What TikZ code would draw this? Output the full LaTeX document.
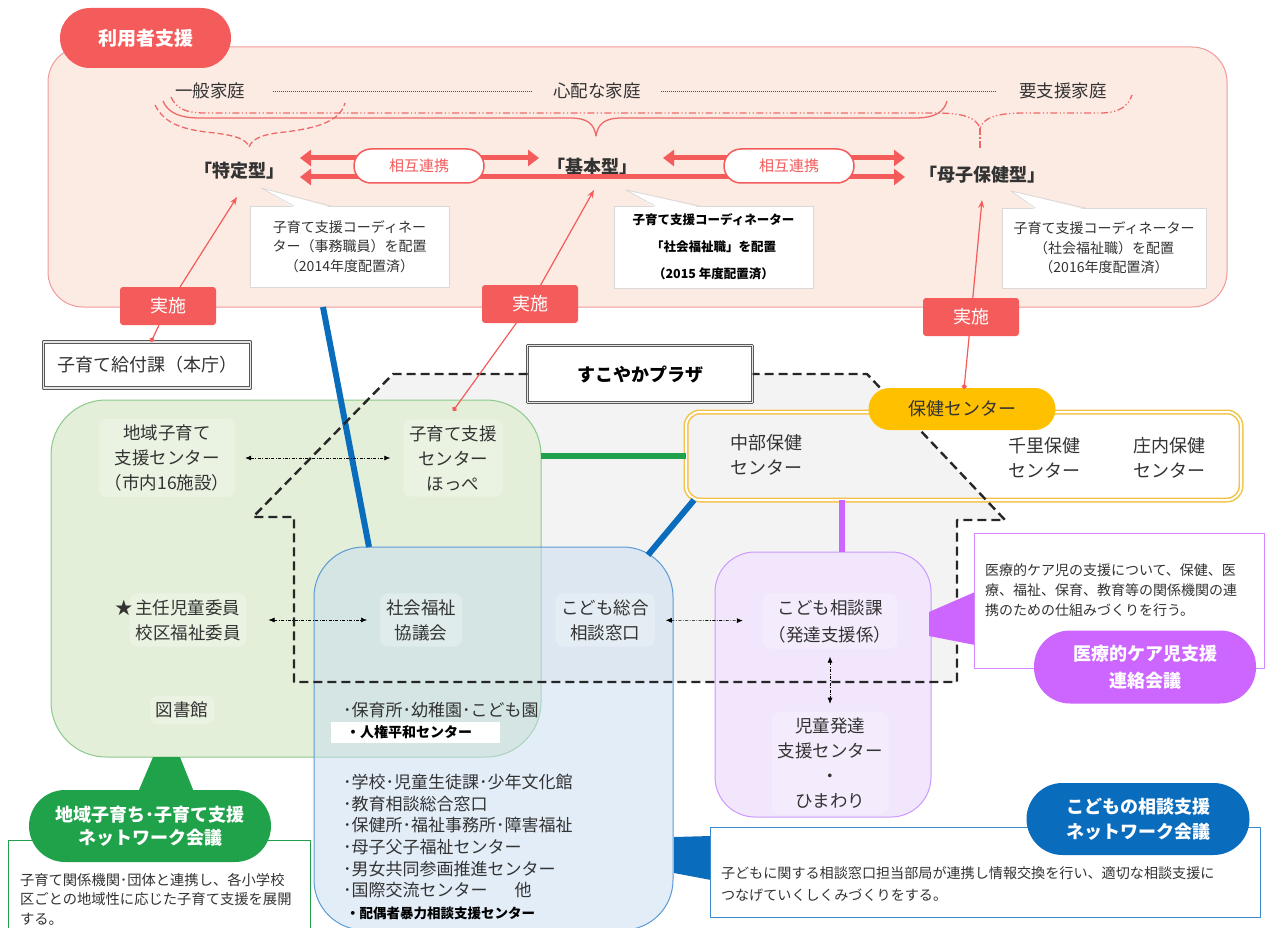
\documentclass[tikz,border=0pt]{standalone}
\usepackage{fontspec}
\setmainfont{Noto Sans CJK JP}
\usetikzlibrary{arrows.meta,positioning}

\definecolor{riyoured}{HTML}{F45B5B}
\definecolor{panelpink}{HTML}{FCEBE3}
\definecolor{panelline}{HTML}{F29A9A}
\definecolor{bracered}{HTML}{EE6A6A}
\definecolor{chiikifill}{HTML}{E3EFD8}
\definecolor{chiikiline}{HTML}{8CC98C}
\definecolor{chiikigreen}{HTML}{1FA24A}
\definecolor{soudanfill}{HTML}{C6DCF1}
\definecolor{soudanline}{HTML}{5B9BD5}
\definecolor{soudanblue}{HTML}{0A6CBD}
\definecolor{hattatsufill}{HTML}{F1E6FB}
\definecolor{hattatsuline}{HTML}{CC99FF}
\definecolor{iryopurple}{HTML}{CC66FF}
\definecolor{hokengold}{HTML}{FFC000}
\definecolor{hokenline}{HTML}{F3C246}
\definecolor{plazagray}{HTML}{F3F3F3}
\definecolor{txt}{HTML}{333333}

\newcommand{\jfs}[2]{\fontsize{#1}{#2}\selectfont}

\begin{document}
\begin{tikzpicture}[x=1pt,y=-1pt,line join=round,
    every node/.style={inner sep=0pt,outer sep=0pt,text=txt},
    lbl/.style={font=\jfs{17.5}{25},align=center,fill=white,fill opacity=0.28,text opacity=1,inner sep=6pt,rounded corners=8pt},
    jisshi/.style={fill=riyoured,rounded corners=3pt,minimum width=96pt,minimum height=38pt,text=white,font=\jfs{18}{22}},
    renkei/.style={draw=riyoured,line width=1.5pt,fill=white,rounded corners=17pt,minimum width=130pt,minimum height=34pt,text=riyoured,font=\jfs{15}{18}},
    duo/.style={draw=riyoured,line width=5pt,{Triangle[length=11pt,width=16pt]}-{Triangle[length=11pt,width=16pt]}},
    jline/.style={draw=riyoured,line width=1.2pt},
    brace/.style={draw=bracered,line width=1.3pt},
    dotline/.style={draw=black!70,line width=0.8pt,dash pattern=on 1pt off 1pt},
    callout/.style={draw=black!15,fill=white,line width=0.8pt,align=center},
    dblbox/.style={draw=black!65,double=gray!20,double distance=1.6pt,line width=0.9pt,fill=white},
    bigbox/.style={line width=1pt},
    kaigi/.style={text=white,font=\bfseries\jfs{18}{25},align=center},
    dashdot/.style={draw=black,line width=0.6pt,dash pattern=on 3pt off 1.5pt on 0.8pt off 1.5pt,{Latex[length=6pt,width=5pt]}-{Latex[length=6pt,width=5pt]}},
    thickline/.style={line width=6pt},
    plazadash/.style={draw=black!85,line width=2.4pt,dash pattern=on 9pt off 5pt},
    memo/.style={align=left,anchor=west},
  ]
\useasboundingbox (0,0) rectangle (1265,928);

% 利用者支援
\node[bigbox,draw=panelline,fill=panelpink,rounded corners=35pt,minimum width=1179pt,minimum height=260pt] (riyou) at (637.5,177) {};
\node[fill=riyoured,rounded corners=30pt,minimum width=171pt,minimum height=60pt,text=white,font=\bfseries\jfs{19}{22}] (riyoutab) at (145.5,38) {利用者支援};

\node[font=\jfs{17.5}{20}] (ippan) at (210,91) {一般家庭};
\node[font=\jfs{17.5}{20}] (shinpai) at (597,91) {心配な家庭};
\node[font=\jfs{17.5}{20}] (youshien) at (1063,91) {要支援家庭};
\draw[dotline,shorten <=28pt,shorten >=21pt] (ippan) -- (shinpai);
\draw[dotline,shorten <=20pt,shorten >=24pt] (shinpai) -- (youshien);

% braces
\draw[brace,dash pattern=on 6pt off 3pt] (155,105) .. controls (165,125) and (185,130) .. (215,133) .. controls (237,136) and (246,139) .. (249,147) .. controls (252,139) and (262,134) .. (285,132) .. controls (318,128) and (340,121) .. (345,103);
\draw[brace] (163,101) .. controls (168,113) and (180,118) .. (200,118) -- (570,118) .. controls (588,118) and (594,124) .. (596,136) .. controls (598,124) and (604,118) .. (622,118) -- (915,118) .. controls (935,118) and (944,112) .. (947,101);
\draw[brace,dash pattern=on 7pt off 2.5pt on 1.2pt off 2.5pt on 1.2pt off 2.5pt] (171,97) .. controls (176,108) and (185,113) .. (205,113) -- (935,113) .. controls (965,113) and (976,118) .. (980,128) .. controls (984,118) and (995,113) .. (1025,113) -- (1100,113) .. controls (1120,113) and (1128,106) .. (1132,95);

\node[font=\bfseries\jfs{18}{22}] (tokutei) at (239,171) {「特定型」};
\node[font=\bfseries\jfs{18}{22}] (kihon) at (592,167) {「基本型」};
\node[font=\bfseries\jfs{18}{22}] (boshi) at (982,175) {「母子保健型」};
\draw[brace,dash pattern=on 7pt off 2.5pt on 1.2pt off 2.5pt] (980,128) -- ([shift={(-2,-25)}]boshi.center);

\draw[duo] ([shift={(16,-13)}]tokutei.east) -- ([shift={(-8,-9)}]kihon.west);
\draw[duo] ([shift={(26,-9)}]kihon.east) -- ([shift={(-14,-17)}]boshi.west);
\draw[duo] ([shift={(16,6)}]tokutei.east) -- ([shift={(-14,2)}]boshi.west);
\node[renkei] (renkei1) at (419,166) {相互連携};
\node[renkei] (renkei2) at (789,166) {相互連携};

% coordinators
\node[callout,minimum width=199pt,minimum height=81pt,font=\jfs{14}{19.5}] (coord1) at (349.5,246.5) {子育て支援コーディネー\\ター（事務職員）を配置\\（2014年度配置済）};
\node[callout,minimum width=199pt,minimum height=82pt,font=\bfseries\jfs{12.5}{27},text=black] (coord2) at (713.5,247) {子育て支援コーディネーター\\「社会福祉職」を配置\\（2015 年度配置済）};
\node[callout,minimum width=204pt,minimum height=80pt,font=\jfs{14}{19.5}] (coord3) at (1104,248) {子育て支援コーディネーター\\（社会福祉職）を配置\\（2016年度配置済）};
\foreach \c/\a/\tx/\ty/\b in {coord1/44/11/-18/81,coord2/41/12/-16/86,coord3/33/9/-17/83}{
  \fill[white] ([shift={(\a,1.5)}]\c.north west) -- ([shift={(\tx,\ty)}]\c.north west) -- ([shift={(\b,1.5)}]\c.north west) -- cycle;
  \draw[black!15,line width=0.8pt] ([shift={(\a,0)}]\c.north west) -- ([shift={(\tx,\ty)}]\c.north west) -- ([shift={(\b,0)}]\c.north west);
}

\node[dblbox,minimum width=207pt,minimum height=46pt,font=\jfs{18}{22}] (kyufu) at (147,365) {子育て給付課（本庁）};

% すこやかプラザ
\fill[plazagray] (528,374) -- (393,374) -- (253,517) -- (294,517) -- (294,682) -- (957,682) -- (957,520) -- (1005,520) -- (867,374) -- (753,374) -- cycle;

\node[bigbox,draw=chiikiline,fill=chiikifill,rounded corners=55pt,minimum width=490pt,minimum height=357pt] (chiiki) at (296,578.5) {};
\node[bigbox,draw=soudanline,fill=soudanfill,fill opacity=0.5,rounded corners=50pt,minimum width=359pt,minimum height=383pt] (soudan) at (493.5,738.5) {};
\node[draw=hokenline,double=white,double distance=2pt,line width=1.5pt,rounded corners=14pt,minimum width=555pt,minimum height=88pt] (hokenbox) at (963.5,456) {};
\node[bigbox,draw=hattatsuline,fill=hattatsufill,rounded corners=40pt,minimum width=216pt,minimum height=265pt] (hattatsu) at (823,684.5) {};

\draw[thickline,draw=soudanblue] ([xshift=-314.5pt]riyou.south) -- ([xshift=-124.5pt]soudan.north);
\draw[thickline,draw=chiikigreen] (chiiki.east |- hokenbox.west) -- (hokenbox.west);
\draw[thickline,draw=soudanblue] ([shift={(-25,8)}]soudan.north east) -- ([xshift=8pt]hokenbox.south west);
\draw[thickline,draw=iryopurple] ([xshift=19pt]hattatsu.north) -- ([xshift=19pt]hattatsu.north |- hokenbox.south);

\node[dblbox,minimum width=225pt,minimum height=57pt,font=\bfseries\jfs{18}{22},text=black] (plaza) at (640,374) {すこやかプラザ};
\draw[plazadash] (plaza.west) -- (393,374) -- (253,517) -- (294,517) -- (294,682) -- (957,682) -- (957,520) -- (1005,520) -- (867,374) -- (plaza.east);

\node[fill=hokengold,rounded corners=21pt,minimum width=187pt,minimum height=42pt,font=\jfs{18}{22}] (hokenpill) at (962,409) {保健センター};
\node[font=\jfs{18}{25},align=center] (chubu) at (766,455) {中部保健\\センター};
\node[font=\jfs{18}{25},align=center] (senri) at (1044,458) {千里保健\\センター};
\node[font=\jfs{18}{25},align=center] (shounai) at (1169,458) {庄内保健\\センター};

% labels
\node[lbl] (chiikiC) at (167,458) {地域子育て\\支援センター\\（市内16施設）};
\node[lbl] (hoppe) at (453,458) {子育て支援\\センター\\ほっぺ};
\node[lbl] (iin) at (188,620) {\llap{★\,}主任児童委員\\校区福祉委員};
\node[lbl] (tosho) at (182,710) {図書館};
\node[lbl] (shakyo) at (421,620) {社会福祉\\協議会};
\node[lbl] (sougou) at (605,620) {こども総合\\相談窓口};
\node[lbl,font=\jfs{17.5}{27}] (kodomo) at (830,621) {こども相談課\\（発達支援係）};
\node[lbl] (jido) at (830,763) {児童発達\\支援センター\\・\\ひまわり};

\draw[dashdot,shorten <=10pt,shorten >=13pt] (chiikiC) -- (hoppe);
\draw[dashdot,shorten <=22pt,shorten >=13pt] (iin) -- (shakyo);
\draw[dashdot,shorten <=11pt,shorten >=20pt] (sougou) -- (kodomo);
\draw[dashdot,shorten <=8pt,shorten >=8pt] (kodomo) -- (jido);

% list
\node[anchor=west,font=\jfs{17}{20}] (hoiku) at (343,710) {･保育所･幼稚園･こども園};
\node[anchor=west,fill=white,text width=169pt,align=left,minimum height=21pt,font=\bfseries\jfs{14}{16},text=black] (jinken) at (331,732.5) {\hspace*{15pt}・人権平和センター};
\foreach \t [count=\i from 0] in {･学校･児童生徒課･少年文化館,･教育相談総合窓口,･保健所･福祉事務所･障害福祉,･母子父子福祉センター,･男女共同参画推進センター,･国際交流センター\hspace{1.6em}他}
  \node[anchor=west,font=\jfs{17}{20}] (list\i) at (343,782+21.7*\i) {\t};
\node[anchor=west,font=\bfseries\jfs{13.5}{16},text=black] (haiguu) at (346,913) {・配偶者暴力相談支援センター};

% 医療的ケア児
\fill[iryopurple] ([shift={(1,-8.5)}]974,600.5) -- ([shift={(1,44.5)}]974,600.5) -- ([shift={(-45,35.5)}]974,600.5) -- ([shift={(-45,11.5)}]974,600.5) -- cycle;
\node[draw=iryopurple!80,fill=white,line width=0.8pt,minimum width=290pt,minimum height=135pt] (iryobox) at (1119,600.5) {};
\node[memo,font=\jfs{14}{20}] (iryotxt) at (985,590) {医療的ケア児の支援について、保健、医\\療、福祉、保育、教育等の関係機関の連\\携のための仕組みづくりを行う。};
\node[kaigi,fill=iryopurple,rounded corners=36pt,minimum width=222pt,minimum height=73pt,font=\bfseries\jfs{18}{27}] (iryokaigi) at (1145,667) {医療的ケア児支援\\連絡会議};

% こどもの相談支援
\fill[soudanblue] ([shift={(1,-35)}]soudan.east |- 710,872) -- ([shift={(1,1)}]soudan.east |- 710,872) -- (711,880) -- (711,836) -- cycle;
\node[draw=soudanblue!80,fill=white,line width=0.8pt,minimum width=550pt,minimum height=90pt] (soudanbox) at (985,872) {};
\node[memo,font=\jfs{14.1}{22}] (soudantxt) at (721,884) {子どもに関する相談窓口担当部局が連携し情報交換を行い、適切な相談支援に\\つなげていくしくみづくりをする。};
\node[kaigi,fill=soudanblue,rounded corners=36pt,minimum width=223pt,minimum height=72pt] (soudankaigi) at (1138,819) {こどもの相談支援\\ネットワーク会議};

% 地域子育ち
\fill[chiikigreen] ([shift={(-143,0)}]chiiki.south) -- ([shift={(-116,0)}]chiiki.south) -- ([shift={(-100,40)}]chiiki.south) -- ([shift={(-160,40)}]chiiki.south) -- cycle;
\node[draw=chiikigreen,fill=white,line width=0.8pt,minimum width=302pt,minimum height=100pt] (chiikibox) at (159,890) {};
\node[memo,font=\jfs{14.3}{19.5}] (chiikitxt) at (20,899) {子育て関係機関･団体と連携し、各小学校\\区ごとの地域性に応じた子育て支援を展開\\する。};
\node[kaigi,fill=chiikigreen,rounded corners=36pt,minimum width=242pt,minimum height=72pt,font=\bfseries\jfs{18}{23}] (chiikikaigi) at (150,826) {地域子育ち･子育て支援\\ネットワーク会議};

% 実施
\foreach \n/\x/\y in {1/168/306,2/530/304,3/971/317}
  \node[jisshi] (jisshi\n) at (\x,\y) {実施};
\draw[jline,-{Stealth[length=8pt,width=6pt]}] (jisshi1) -- ([shift={(-2,26)}]tokutei.center);
\draw[jline,-{Stealth[length=8pt,width=6pt]}] (jisshi2) -- ([shift={(2,23)}]kihon.center);
\draw[jline,-{Stealth[length=8pt,width=6pt]}] (jisshi3) -- ([shift={(0,25)}]boshi.center);
\draw[jline,-{Circle[length=5pt]}] (jisshi1) -- ([shift={(4,-23)}]kyufu.center);
\draw[jline,-{Circle[length=5pt]}] (jisshi2) -- ([shift={(0,-47)}]hoppe.center);
\draw[jline,-{Circle[length=5pt]}] (jisshi3) -- ([shift={(2,-20)}]hokenpill.center);
\end{tikzpicture}
\end{document}
